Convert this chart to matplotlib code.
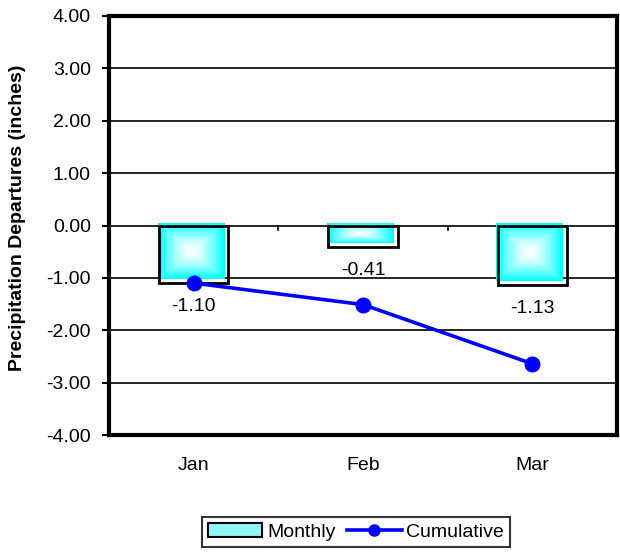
import numpy as np
import matplotlib
matplotlib.use("Agg")
import matplotlib.pyplot as plt
from matplotlib.colors import LinearSegmentedColormap
from matplotlib.patches import Patch
from matplotlib.lines import Line2D
from matplotlib.legend_handler import HandlerTuple

# Daten
months = ["Jan", "Feb", "Mar"]
monthly = [-1.10, -0.41, -1.13]
cumulative = [-1.10, -1.51, -2.64]
monthly_labels = ["-1.10", "-0.41", "-1.13"]
y_ticks = [4, 3, 2, 1, 0, -1, -2, -3, -4]

plt.rcParams['font.family'] = ['Liberation Sans', 'DejaVu Sans']
FS = 14

fig = plt.figure(figsize=(6.2, 5.52), dpi=100)
ax = fig.add_axes([109 / 620, 117 / 552, 508 / 620, 419 / 552])

x = np.arange(len(months))
bar_w = 0.41

# Verlauf fuer die Balken (Rand cyan, Mitte weiss)
cmap = LinearSegmentedColormap.from_list("wc", ["#ffffff", "#00ffff"])
u = np.linspace(-1, 1, 80)
uu, vv = np.meshgrid(u, u)
grad = np.maximum(np.abs(uu), np.abs(vv)) ** 1.4

for xi, v in zip(x, monthly):
    x0 = xi - bar_w / 2
    x1 = xi + bar_w / 2
    ax.imshow(grad, cmap=cmap, vmin=0, vmax=1, aspect='auto', interpolation='bilinear',
              extent=[x0 - 0.008, x1 - 0.024, v + 0.07, 0.03], zorder=2)

ax.bar(x, monthly, width=bar_w, facecolor='none', edgecolor='black', linewidth=2, zorder=3)

# Kumulierte Linie
ax.plot(x, cumulative, color='#0000ff', linewidth=2.6, marker='o', markersize=10.5, zorder=4)

# Werte unter den Balken
for xi, v, lab in zip(x, monthly, monthly_labels):
    ax.annotate(lab, (xi, v), xytext=(0, -17), textcoords='offset points',
                ha='center', va='center', fontsize=FS, zorder=5)

# kleine Markierungen zwischen den Kategorien auf der Nulllinie
for b in [0.5, 1.5]:
    ax.plot([b, b], [0, -0.08], color='black', linewidth=1.2, zorder=3)

ax.set_xlim(-0.5, 2.5)
ax.set_ylim(-4, 4)
ax.set_yticks(y_ticks)
ax.set_yticklabels([f"{t:.2f}" for t in y_ticks], fontsize=FS)
ax.set_xticks(x)
ax.set_xticklabels(months, fontsize=FS)
ax.tick_params(axis='x', length=0, pad=16)
ax.tick_params(axis='y', length=5, width=1.5, pad=8, direction='out')

ax.yaxis.grid(True, color='black', linewidth=1.2)
ax.set_axisbelow(True)
for sp in ax.spines.values():
    sp.set_linewidth(3)
    sp.set_color('black')

fig.text(18 / 620, 0.605, "Precipitation Departures (inches)", rotation=90,
         ha='center', va='center', fontsize=FS, fontweight='bold')

# Legende
h_fill = Patch(facecolor='#8ff7f7', edgecolor='none')
h_edge = Patch(facecolor='none', edgecolor='black', linewidth=1.5)
h_line = Line2D([], [], color='#0000ff', linewidth=2.6, marker='o', markersize=8)
leg = fig.legend([(h_fill, h_edge), h_line], ["Monthly", "Cumulative"],
                 handler_map={tuple: HandlerTuple(ndivide=1)},
                 loc='center', bbox_to_anchor=(356 / 620, 1 - 532 / 552), ncol=2,
                 fontsize=FS, frameon=True, fancybox=False, edgecolor='black',
                 handlelength=2.8, handletextpad=0.25, columnspacing=0.6,
                 borderpad=0.3, borderaxespad=0)
leg.get_frame().set_linewidth(1.5)

fig.savefig("out.png", dpi=100)
